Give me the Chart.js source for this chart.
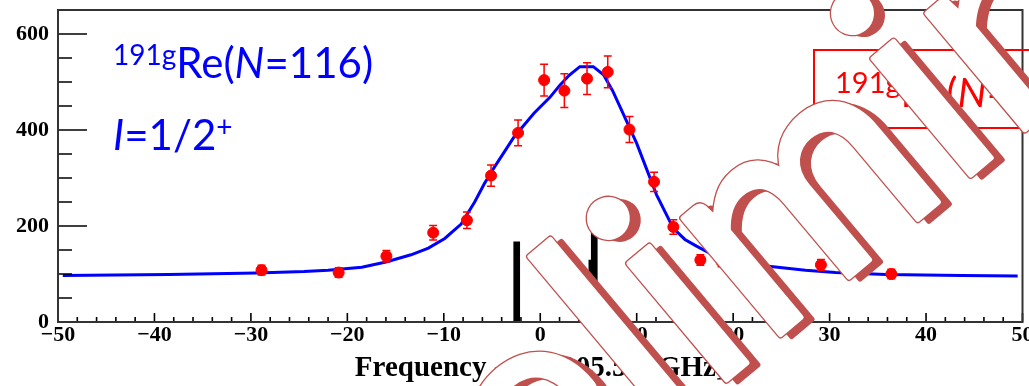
<!DOCTYPE html>
<html>
<head>
<meta charset="utf-8">
<script src="https://cdn.jsdelivr.net/npm/chart.js@4"></script>
<style>
  body { margin: 0; background: #fff; }
  canvas { display: block; }
</style>
</head>
<body>
<canvas id="grafico" width="1029" height="386"></canvas>
<script>
// measured points (frequency offset in GHz, counts)
const freqs  = [-28.9, -20.9, -15.95, -11.1, -7.6, -5.1, -2.3, 0.4, 2.5, 4.85, 7.0, 9.25, 11.8, 13.8, 16.6, 18.8, 29.1, 36.4];
const counts = [108, 103, 137, 186, 212, 305, 394, 504, 482, 507, 521, 401, 292, 198, 129, 126, 119, 100];
const errs   = [10, 10, 12, 15, 17, 22, 27, 33, 35, 33, 33, 27, 20, 15, 11, 11, 11, 10];

// fitted curve
const fitFreq   = [-49.5, -38.5, -29.4, -24.5, -22, -18.5, -16, -13.4, -11.6, -9.9, -8.2, -6.8, -5.8, -4.8, -2.7, -0.65, 1, 2.06, 3, 4.1, 5.5, 6.56, 7.5, 8.25, 10, 11, 12.06, 13.8, 15, 16.2, 18.2, 20, 22, 25.1, 27.5, 30.6, 35.8, 43.7, 49.5];
const fitCounts = [97, 99, 102, 105, 108, 114, 125, 140, 154, 174, 204, 250, 288, 321, 386, 435, 468, 494, 514, 532, 532, 515, 482, 449, 372, 320, 265, 195, 172, 158, 137, 127, 120, 113, 108, 103, 99, 97, 96];

// hyperfine components (black sticks)
const hfsFreq = [-2.44, 5.35, 5.6];
const hfsInt  = [167, 129, 215];

const xTicks = [-50, -40, -30, -20, -10, 0, 10, 20, 30, 40, 50];
const yTicks = [0, 200, 400, 600];

const xTitle = 'Frequency - 866 305.50 [GHz]';
const watermark = 'Preliminary';

const rootFont = '"Liberation Serif", "Times New Roman", serif';

const errorBars = {
  id: 'errorBars',
  afterDatasetsDraw(chart) {
    const { ctx, scales: { x, y } } = chart;
    ctx.save();
    ctx.strokeStyle = '#ff0000';
    ctx.lineWidth = 1.5;
    ctx.beginPath();
    freqs.forEach((f, i) => {
      const px = x.getPixelForValue(f);
      const y1 = y.getPixelForValue(counts[i] + errs[i]);
      const y2 = y.getPixelForValue(counts[i] - errs[i]);
      ctx.moveTo(px, y1); ctx.lineTo(px, y2);
      ctx.moveTo(px - 4, y1); ctx.lineTo(px + 4, y1);
      ctx.moveTo(px - 4, y2); ctx.lineTo(px + 4, y2);
    });
    ctx.stroke();
    ctx.restore();
  }
};

const rootAxes = {
  id: 'rootAxes',
  afterDatasetsDraw(chart) {
    const { ctx, chartArea: a, scales: { x, y } } = chart;
    ctx.save();
    ctx.strokeStyle = '#000';
    ctx.lineWidth = 1.6;
    ctx.beginPath();
    for (let v = -50; v <= 50; v += 2) {
      const px = x.getPixelForValue(v);
      const len = v % 10 === 0 ? 9 : 5;
      ctx.moveTo(px, a.bottom); ctx.lineTo(px, a.bottom - len);
    }
    for (let v = 0; v < 650; v += 50) {
      const py = y.getPixelForValue(v);
      const len = v % 200 === 0 ? 29 : 14;
      ctx.moveTo(a.left, py); ctx.lineTo(a.left + len, py);
    }
    ctx.stroke();
    ctx.strokeStyle = '#333';
    ctx.lineWidth = 2;
    ctx.strokeRect(a.left, a.top, a.right - a.left, a.bottom - a.top);
    ctx.restore();
  }
};

// text made of runs: [text, size, italic, baseline]
function drawRuns(ctx, x, runs, color) {
  ctx.fillStyle = color;
  ctx.textBaseline = 'alphabetic';
  ctx.textAlign = 'left';
  runs.forEach(r => {
    ctx.font = (r[2] ? 'italic ' : '') + r[1] + 'px Lato';
    ctx.fillText(r[0], x, r[3]);
    x += ctx.measureText(r[0]).width;
  });
}

const labels = {
  id: 'labels',
  afterDatasetsDraw(chart) {
    const ctx = chart.ctx;
    ctx.save();
    drawRuns(ctx, 113, [['191g', 28, false, 65], ['Re(', 42, false, 78], ['N', 42, true, 78], ['=116)', 42, false, 78]], '#0000ff');
    drawRuns(ctx, 113, [['I', 42, true, 150], ['=1/2', 42, false, 150], ['+', 28, false, 137]], '#0000ff');
    ctx.strokeStyle = '#ff0000';
    ctx.lineWidth = 2;
    ctx.strokeRect(814, 50, 260, 78);
    drawRuns(ctx, 835, [['191g', 29, false, 93], ['Re(', 41, false, 107], ['N', 41, true, 107], ['=116)', 41, false, 107]], '#ff0000');
    ctx.restore();
  }
};

const stamp = {
  id: 'stamp',
  afterDraw(chart) {
    const ctx = chart.ctx;
    const ang = -40 * Math.PI / 180;
    ctx.save();
    ctx.font = '300px Lato';
    ctx.textBaseline = 'alphabetic';
    ctx.textAlign = 'left';
    ctx.lineJoin = 'round';
    const pre = ctx.measureText('Pre').width;
    // shadow copy
    ctx.save();
    ctx.translate(655 + 11, 440 + 2);
    ctx.rotate(ang);
    ctx.fillStyle = '#c0504d';
    ctx.strokeStyle = '#c0504d';
    ctx.lineWidth = 5;
    ctx.fillText(watermark, -pre, 0);
    ctx.strokeText(watermark, -pre, 0);
    ctx.restore();
    // face with thin outline
    ctx.translate(655, 440);
    ctx.rotate(ang);
    ctx.strokeStyle = '#c0504d';
    ctx.lineWidth = 7.6;
    ctx.strokeText(watermark, -pre, 0);
    ctx.fillStyle = '#ffffff';
    ctx.strokeStyle = '#ffffff';
    ctx.lineWidth = 5;
    ctx.fillText(watermark, -pre, 0);
    ctx.strokeText(watermark, -pre, 0);
    ctx.restore();
  }
};

new Chart(document.getElementById('grafico'), {
  type: 'scatter',
  data: {
    datasets: [
      {
        type: 'scatter',
        data: freqs.map((f, i) => ({ x: f, y: counts[i] })),
        backgroundColor: '#ff0000',
        borderColor: '#ff0000',
        pointRadius: 5.5,
        order: 0
      },
      {
        type: 'line',
        data: fitFreq.map((f, i) => ({ x: f, y: fitCounts[i] })),
        borderColor: '#0000ff',
        borderWidth: 3,
        pointRadius: 0,
        tension: 0,
        fill: false,
        order: 1
      },
      {
        type: 'bar',
        data: hfsFreq.map((f, i) => ({ x: f, y: hfsInt[i] })),
        backgroundColor: '#000',
        barThickness: 6,
        order: 2
      }
    ]
  },
  options: {
    responsive: false,
    animation: false,
    layout: { padding: { top: 10, right: 1, left: 0, bottom: 0 } },
    plugins: { legend: { display: false }, tooltip: { enabled: false } },
    scales: {
      x: {
        type: 'linear',
        min: -50,
        max: 50,
        offset: false,
        grid: { display: false, drawTicks: false },
        border: { display: false },
        afterBuildTicks: s => { s.ticks = xTicks.map(v => ({ value: v })); },
        afterFit: s => { s.height = 64; s.paddingLeft = 0; s.paddingRight = 0; },
        ticks: {
          padding: 0,
          maxRotation: 0,
          autoSkip: false,
          color: '#000',
          font: { family: rootFont, size: 22, weight: 'bold' },
          callback: v => v < 0 ? '\u2212' + Math.abs(v) : String(v)
        },
        title: {
          display: true,
          text: xTitle,
          color: '#000',
          font: { family: rootFont, size: 29, weight: 'bold' },
          padding: { top: 0, bottom: 0 }
        }
      },
      y: {
        type: 'linear',
        min: 0,
        max: 650,
        grid: { display: false, drawTicks: false },
        border: { display: false },
        afterBuildTicks: s => { s.ticks = yTicks.map(v => ({ value: v })); },
        afterFit: s => { s.width = 58; s.paddingTop = 0; s.paddingBottom = 0; },
        ticks: {
          padding: 9,
          color: '#000',
          font: { family: rootFont, size: 22, weight: 'bold' }
        }
      }
    }
  },
  plugins: [errorBars, rootAxes, labels, stamp]
});
</script>
</body>
</html>
